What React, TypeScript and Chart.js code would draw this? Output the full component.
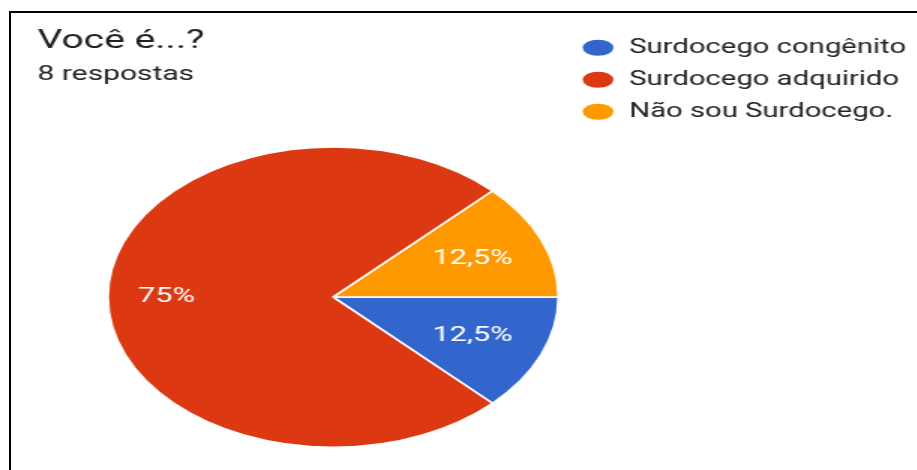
import React, { useEffect, useRef } from "react";
import { Chart, registerables } from "chart.js";

Chart.register(...registerables);

const titleText = "Você é...?";
const subtitleText = "8 respostas";
const categories = ["Surdocego congênito", "Surdocego adquirido", "Não sou Surdocego."];
const responses = [1, 6, 1];
const sliceColors = ["#3366CC", "#DC3912", "#FF9900"];

const SCALE_X = 1.5;
const CANVAS_W = 612;
const CANVAS_H = 470;

const pieLabelsPlugin = {
  id: "pieLabels",
  afterDatasetsDraw(chart: any) {
    const ctx = chart.ctx;
    const meta = chart.getDatasetMeta(0);
    const values = chart.data.datasets[0].data as number[];
    const total = values.reduce((a, b) => a + b, 0);
    ctx.save();
    ctx.fillStyle = "#ffffff";
    ctx.font = "20.5px Roboto";
    ctx.textAlign = "center";
    ctx.textBaseline = "middle";
    meta.data.forEach((arc: any, i: number) => {
      const { x, y, startAngle, endAngle, outerRadius } = arc.getProps(
        ["x", "y", "startAngle", "endAngle", "outerRadius"],
        true
      );
      const frac = values[i] / total;
      const mid = (startAngle + endAngle) / 2;
      const f = frac > 0.5 ? 0.74 : 0.67;
      const pct = String(Math.round(frac * 1000) / 10).replace(".", ",") + "%";
      ctx.fillText(pct, x + Math.cos(mid) * outerRadius * f, y + Math.sin(mid) * outerRadius * f);
    });
    ctx.restore();
  },
};

const areaShiftPlugin = {
  id: "areaShift",
  afterLayout(chart: any) {
    const a = chart.chartArea;
    a.left = 69;
    a.width = a.right - a.left;
  },
};

export default function App() {
  const canvasRef = useRef<HTMLCanvasElement | null>(null);

  useEffect(() => {
    if (!canvasRef.current) return;
    Chart.defaults.font.family = "Roboto";
    const chart = new Chart(canvasRef.current, {
      type: "pie",
      data: {
        labels: categories,
        datasets: [
          {
            data: responses,
            backgroundColor: sliceColors,
            borderColor: "#ffffff",
            borderWidth: 1.5,
          },
        ],
      },
      options: {
        responsive: false,
        maintainAspectRatio: false,
        animation: false,
        devicePixelRatio: 1,
        rotation: 90,
        layout: { padding: { top: 25.5, left: 25, right: -2, bottom: 22 } },
        plugins: {
          title: {
            display: true,
            text: titleText,
            align: "start",
            color: "#212121",
            font: { family: "Roboto", size: 26, weight: "normal" },
            padding: { top: 0, bottom: 0 },
          },
          subtitle: {
            display: true,
            text: subtitleText,
            align: "start",
            color: "#212121",
            font: { family: "Roboto", size: 20, weight: "normal" },
            padding: { top: 6, bottom: 59.5 },
          },
          legend: {
            position: "right",
            align: "start",
            labels: {
              usePointStyle: true,
              pointStyle: "circle",
              pointStyleWidth: 22,
              boxHeight: 12.5,
              padding: 12.5,
              color: "#222222",
              font: { family: "Roboto", size: 19.5 },
            },
          },
          tooltip: { enabled: false },
        },
      },
      plugins: [areaShiftPlugin, pieLabelsPlugin],
    });
    return () => chart.destroy();
  }, []);

  return (
    <div
      style={{
        position: "fixed",
        left: 0,
        top: 0,
        width: 917,
        height: 470,
        overflow: "hidden",
        background: "#ffffff",
      }}
    >
      <div
        style={{
          position: "absolute",
          left: 0,
          top: 0,
          width: CANVAS_W,
          height: CANVAS_H,
          transform: `scaleX(${SCALE_X})`,
          transformOrigin: "0 0",
        }}
      >
        <canvas
          ref={canvasRef}
          width={CANVAS_W}
          height={CANVAS_H}
          style={{ display: "block", width: CANVAS_W, height: CANVAS_H }}
        />
      </div>
      <div
        style={{
          position: "absolute",
          left: 9,
          top: 11,
          width: 930,
          height: 480,
          borderTop: "2px solid #000",
          borderLeft: "2px solid #000",
          pointerEvents: "none",
        }}
      />
    </div>
  );
}
